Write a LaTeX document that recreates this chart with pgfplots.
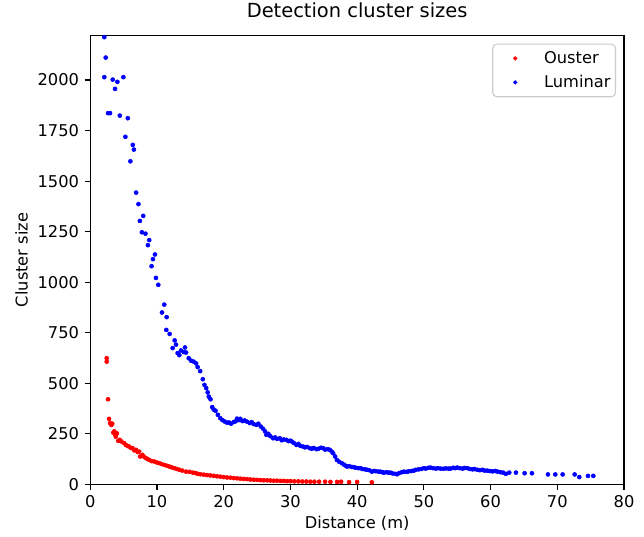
\documentclass[border=0pt]{standalone}
\usepackage{fontspec}
\setmainfont{DejaVu Sans}
\usepackage{pgfplots}
\pgfplotsset{compat=1.18}

\pgfplotstableread{
x y
2.47 624
2.47 607
2.67 421
2.82 324
2.97 303
3.16 294
3.30 300
3.46 256
3.60 262
3.72 248
3.83 236
4.00 252
4.20 215
4.43 220
4.67 212
5.08 204
5.33 195
5.60 190
5.83 187
6.10 180
6.33 179
6.60 168
6.84 171
7.10 160
7.33 162
7.49 138
7.83 146
8.10 135
8.34 130
8.60 125
8.84 121
9.20 115
9.60 113
10.00 108
10.35 105
10.70 100
11.10 96
11.50 92
11.85 88
12.20 84
12.60 80
13.00 76
13.36 72
13.80 68
14.37 63
14.90 62
15.40 58
15.80 56
16.10 52
16.50 50
17.00 48
17.50 46
18.00 44
18.50 42
19.00 40
19.50 38
20.00 36
20.50 34
21.00 33
21.50 31
22.00 30
22.50 28
23.00 27
23.50 26
24.00 24
24.50 23
25.00 22
25.50 21
26.00 20
26.50 20
27.00 19
27.50 18
28.00 18
28.50 17
29.00 17
29.50 16
30.00 16
30.60 15
31.20 15
31.80 14
32.40 14
33.00 13
33.60 13
34.30 13
35.20 13
36.00 12
37.00 12
37.60 13
38.80 11
40.00 12
42.20 10
}\ouster

\pgfplotstableread{
x y
2.11 2212
2.32 2111
2.11 2014
2.67 1836
2.97 1836
3.37 2002
3.72 1956
4.07 1991
4.43 1824
4.97 2014
5.63 1811
5.27 1719
6.02 1598
6.38 1679
6.54 1656
6.88 1443
7.23 1386
7.44 1303
7.74 1247
7.94 1328
8.28 1240
8.64 1183
8.84 1208
9.19 1079
9.40 1114
9.70 1137
9.85 1021
10.20 987
10.75 850
11.10 889
11.40 764
11.45 827
11.90 744
12.35 674
12.65 712
12.86 691
13.10 649
13.36 639
13.60 662
14.06 654
14.20 677
14.37 652
14.76 624
15.10 612
15.50 607
15.87 598
16.10 580
16.48 560
16.87 520
17.12 492
17.38 476
17.60 455
17.77 434
18.03 421
18.28 382
18.50 370
18.78 364
19.13 344
19.49 327
19.80 318
20.14 311
20.50 305
20.80 306
21.10 300
21.50 308
21.80 312
22.00 325
22.30 318
22.50 324
22.80 313
23.15 316
23.50 310
23.90 303
24.20 308
24.50 298
24.90 294
25.20 300
25.56 286
25.90 275
26.20 262
26.40 245
26.70 250
27.00 238
27.40 228
27.70 232
28.00 225
28.40 228
28.70 218
29.00 222
29.40 220
29.70 214
30.00 216
30.20 212
30.50 205
30.90 195
31.20 200
31.50 190
31.90 187
32.20 183
32.50 185
32.90 179
33.20 176
33.50 180
33.90 174
34.20 176
34.60 181
34.90 179
35.20 172
35.60 174
35.90 171
36.20 162
36.40 154
36.70 138
36.96 121
37.30 112
37.70 105
38.00 98
38.30 92
38.50 88
38.80 90
39.20 86
39.50 85
39.80 82
40.20 80
40.50 80
40.80 76
41.20 74
41.50 72
41.80 70
42.20 63
42.50 66
42.80 65
43.20 63
43.50 63
43.80 60
44.00 58
44.40 60
44.70 58
45.00 58
45.30 54
45.70 52
46.00 50
46.30 56
46.70 60
47.00 63
47.40 62
47.70 64
48.10 66
48.50 68
48.80 72
49.20 74
49.60 76
50.00 80
50.30 78
50.70 82
51.00 83
51.40 80
51.80 78
52.10 80
52.50 78
52.90 77
53.30 79
53.70 78
54.00 78
54.40 82
54.70 80
55.00 83
55.40 80
55.80 78
56.10 81
56.50 80
56.90 76
57.30 74
57.60 76
58.00 72
58.40 70
58.80 72
59.10 68
59.50 68
59.90 66
60.30 64
60.70 66
61.05 63
61.50 60
61.90 58
62.30 52
62.80 58
63.80 58
65.10 55
66.20 55
68.60 49
69.70 49
70.80 49
72.60 49
73.30 36
74.60 42
75.40 42
}\luminar

\begin{document}
\fontsize{11.7}{14}\selectfont
\begin{tikzpicture}
\begin{axis}[
    scale only axis,
    width=384.5pt, height=323.3pt,
    xmin=0, xmax=80, ymin=0, ymax=2220,
    xtick={0,10,...,80},
    ytick={0,250,...,2000},
    tick align=outside,
    tick pos=left,
    major tick length=4pt,
    axis line style={line width=0.8pt},
    every tick/.style={black, line width=0.8pt},
    /pgf/number format/assume math mode=true,
    /pgf/number format/1000 sep={},
    tick label style={font=\fontsize{11.7}{14}\selectfont},
    title={Detection cluster sizes},
    title style={font=\fontsize{14}{17}\selectfont, at={(axis description cs:0.5,1.0384)}, anchor=center},
    xlabel={Distance (m)},
    xlabel style={at={(axis description cs:0.5,-0.0869)}, anchor=center},
    ylabel={Cluster size},
    ylabel style={at={(axis description cs:-0.1288,0.5)}, anchor=center},
    legend cell align=left,
    legend style={at={(axis description cs:0.985,0.982)}, anchor=north east,
        draw=black!20, fill=white, rounded corners=2.9pt, line width=0.8pt,
        inner xsep=1.6pt, inner ysep=3pt, row sep=2.8pt,
        font=\fontsize{11.7}{14}\selectfont},
    legend image code/.code={\path (0pt,0pt) (32.6pt,0pt);
        \fill[#1] (14.2pt,0pt) circle (1.05pt);},
]
\addplot[only marks, mark=*, mark size=1.45pt, color=red, mark options={draw=red, fill=red}]
    table {\ouster};
\addlegendentry{Ouster}
\addplot[only marks, mark=*, mark size=1.45pt, color=blue, mark options={draw=blue, fill=blue}]
    table {\luminar};
\addlegendentry{Luminar}
\end{axis}
\pgfresetboundingbox
\path ([shift={(-65pt,-37.8pt)}]current axis.south west) rectangle ([shift={(14.4pt,25.6pt)}]current axis.north east);
\end{tikzpicture}
\end{document}
